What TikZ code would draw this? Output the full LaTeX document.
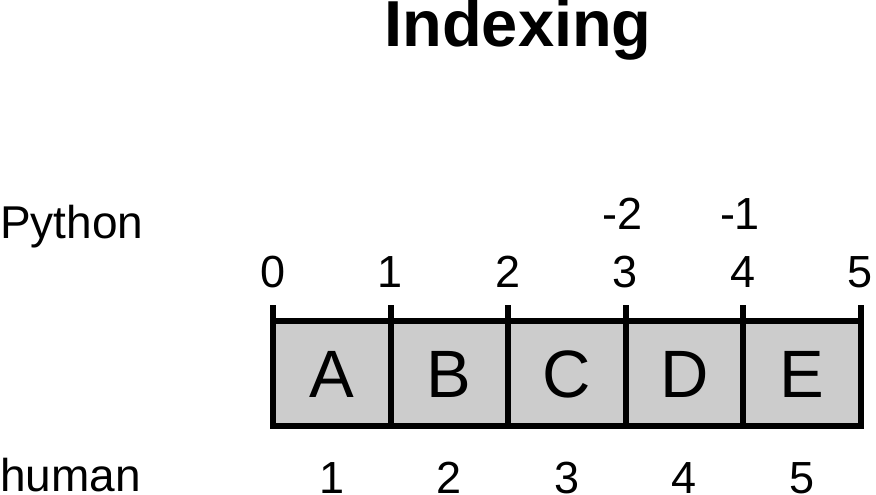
\documentclass[tikz,border=0pt]{standalone}
\usepackage{fontspec}
\setmainfont{Liberation Sans}
\definecolor{cellgray}{HTML}{CCCCCC}
\tikzset{
  lbl/.style={inner sep=0pt, anchor=base, font=\fontsize{45}{45}\selectfont},
  side/.style={inner sep=0pt, anchor=base west, font=\fontsize{46}{46}\selectfont},
  letter/.style={inner sep=0pt, anchor=base, font=\fontsize{67}{67}\selectfont},
  titlestyle/.style={inner sep=0pt, anchor=base, font=\fontsize{65}{65}\selectfont\bfseries},
  edge/.style={line width=6pt, draw=black}
}
\begin{document}
\begin{tikzpicture}[x=1pt, y=-1pt]
\useasboundingbox (0,0) rectangle (876,495);
% cells
\fill[cellgray] (273,321) rectangle (860.5,426);
\draw[edge] (270,426) -- (863.5,426);
\draw[edge] (273,321) -- (860.5,321);
\foreach \i/\x in {0/273,1/390.5,2/508,3/625.5,4/743,5/860.5}{
  \coordinate (t\i) at (\x,305);
  \coordinate (b\i) at (\x,429);
  \draw[edge] (t\i) -- (b\i);
  \node[lbl] (p\i) at (\x,287) {\i};
}
\foreach \n/\x/\c in {1/331.75/A,2/449.25/B,3/566.75/C,4/684.25/D,5/801.75/E}{
  \node[letter] (c\n) at (\x,397) {\c};
  \node[lbl] (h\n) at (\x,493) {\n};
}
\node[lbl] (m2) at (623,229) {-2};
\node[lbl] (m1) at (740,229) {-1};
\node[side] (python) at (0,238) {Python};
\node[side] (human) at (0,491) {human};
\node[titlestyle] (title) at (518,47) {Indexing};
\end{tikzpicture}
\end{document}
